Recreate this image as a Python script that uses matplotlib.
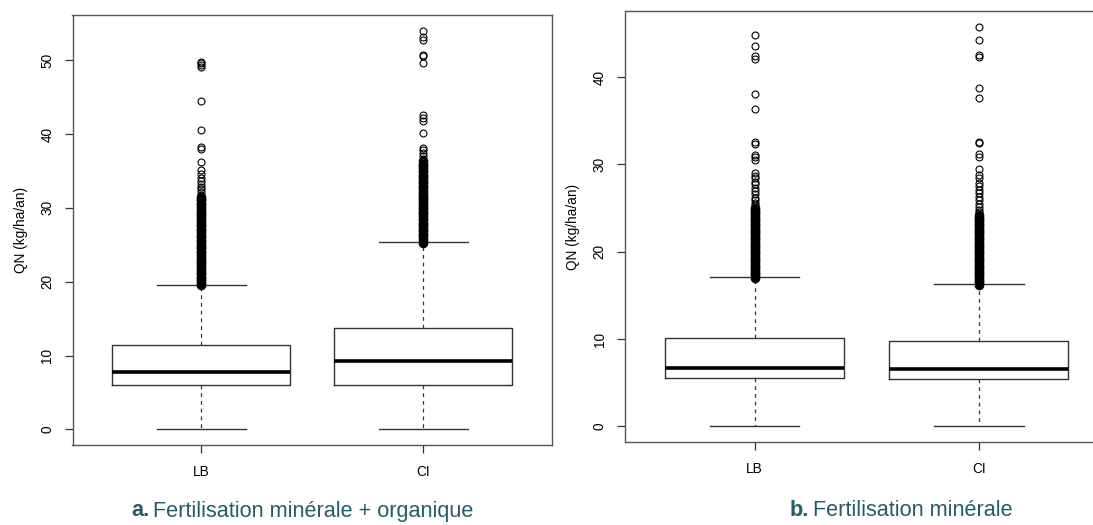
import matplotlib
matplotlib.use("Agg")
import matplotlib.pyplot as plt

plt.rcParams["font.family"] = ["Liberation Sans", "DejaVu Sans"]

groups = ["LB", "CI"]

# a. mineral + organic fertilisation
a_low = [0.0, 0.0]
a_q1 = [6.0, 6.05]
a_med = [7.8, 9.25]
a_q3 = [11.4, 13.75]
a_high = [19.6, 25.4]
# dense band of outliers (looks solid in the picture)
a_lb_dense = [
    19.5, 19.7, 20.0, 20.2, 20.5, 20.7, 21.0, 21.2, 21.5, 21.7, 22.0, 22.2,
    22.5, 22.7, 23.0, 23.2, 23.5, 23.7, 24.0, 24.2, 24.5, 24.7, 25.0, 25.2,
    25.5, 25.7, 26.0, 26.2, 26.5, 26.7, 27.0, 27.2, 27.5, 27.7, 28.0, 28.2,
    28.5, 28.7, 29.0, 29.2, 29.5, 29.7, 30.0, 30.2, 30.5, 30.7, 31.0, 31.2,
    31.5,
]
a_lb_sparse = [31.8, 32.1, 32.5, 32.8, 33.2, 33.6, 34.0, 34.6, 35.1, 36.2, 38.0,
               38.2, 40.6, 44.5, 49.1, 49.3, 49.6, 49.8]
a_ci_dense = [
    25.3, 25.5, 25.8, 26.0, 26.3, 26.5, 26.8, 27.0, 27.3, 27.5, 27.8, 28.0,
    28.3, 28.5, 28.8, 29.0, 29.3, 29.5, 29.8, 30.0, 30.3, 30.5, 30.8, 31.0,
    31.3, 31.5, 31.8, 32.0, 32.3, 32.5, 32.8, 33.0, 33.3, 33.5, 33.8, 34.0,
    34.3, 34.5, 34.8, 35.0, 35.3, 35.5, 35.8, 36.0, 36.3,
]
a_ci_sparse = [36.6, 37.0, 37.4, 37.8, 38.1, 40.2, 41.7, 42.2, 42.6, 49.6, 50.5,
               50.7, 52.8, 53.2, 54.0]

# b. mineral fertilisation
b_low = [0.0, 0.0]
b_q1 = [5.57, 5.39]
b_med = [6.68, 6.53]
b_q3 = [10.15, 9.74]
b_high = [17.1, 16.3]
b_lb_dense = [
    17.0, 17.2, 17.4, 17.6, 17.8, 18.0, 18.2, 18.4, 18.6, 18.8, 19.0, 19.2,
    19.4, 19.6, 19.8, 20.0, 20.2, 20.4, 20.6, 20.8, 21.0, 21.2, 21.4, 21.6,
    21.8, 22.0, 22.2, 22.4, 22.6, 22.8, 23.0, 23.2, 23.4, 23.6, 23.8, 24.0,
    24.2, 24.4, 24.6, 24.8, 25.0,
]
b_lb_sparse = [25.3, 25.6, 25.9, 26.2, 26.6, 27.0, 27.3, 27.7, 28.0, 28.4, 28.7,
               29.0, 30.45, 30.9, 31.1, 32.35, 32.55, 36.3, 38.1, 42.1, 42.36,
               43.55, 44.85]
b_ci_dense = [
    16.2, 16.4, 16.6, 16.8, 17.0, 17.2, 17.4, 17.6, 17.8, 18.0, 18.2, 18.4,
    18.6, 18.8, 19.0, 19.2, 19.4, 19.6, 19.8, 20.0, 20.2, 20.4, 20.6, 20.8,
    21.0, 21.2, 21.4, 21.6, 21.8, 22.0, 22.2, 22.4, 22.6, 22.8, 23.0, 23.2,
    23.4, 23.6, 23.8, 24.0, 24.2,
]
b_ci_sparse = [24.5, 24.8, 25.1, 25.5, 25.9, 26.3, 26.7, 27.1, 27.5, 27.9, 28.4,
               28.8, 29.45, 30.9, 31.2, 32.5, 32.6, 37.6, 38.7, 42.3, 42.5, 44.2,
               45.7]

y_label = "QN (kg/ha/an)"
captions = [("a.", "Fertilisation minérale + organique"), ("b.", "Fertilisation minérale")]
cap_color = "#255b6b"
line_col = "#333333"


def make_stats(low, q1, med, q3, high, outs):
    stats = []
    for i, name in enumerate(groups):
        stats.append(
            dict(label=name, whislo=low[i], q1=q1[i], med=med[i], q3=q3[i],
                 whishi=high[i], fliers=outs[i])
        )
    return stats


def draw_panel(ax, stats, dense, yticks):
    ax.bxp(
        stats,
        positions=[1, 2],
        widths=0.8,
        capwidths=0.4,
        showfliers=True,
        boxprops=dict(color=line_col, linewidth=1.0),
        whiskerprops=dict(color=line_col, linewidth=0.9, linestyle=(0, (3, 3.2))),
        capprops=dict(color=line_col, linewidth=1.0),
        medianprops=dict(color="black", linewidth=2.6, solid_capstyle="butt"),
        flierprops=dict(marker="o", markerfacecolor="none", markeredgecolor="black",
                        markersize=5, markeredgewidth=0.8),
    )
    # the thousands of overlapping outliers fill in to a solid column
    for pos, vals in zip([1, 2], dense):
        ax.plot([pos] * len(vals), vals, linestyle="none", marker="o",
                markerfacecolor="none", markeredgecolor="black",
                markersize=5, markeredgewidth=1.9)
    all_vals = [s["whishi"] for s in stats] + [max(s["fliers"]) for s in stats]
    all_low = [s["whislo"] for s in stats]
    ymin, ymax = min(all_low), max(all_vals)
    pad = 0.04 * (ymax - ymin)
    ax.set_ylim(ymin - pad, ymax + pad)
    ax.set_xlim(0.42, 2.58)
    ax.set_yticks(yticks)
    ax.set_yticklabels([str(t) for t in yticks], rotation=90, va="center")
    ax.set_xticks([1, 2])
    ax.set_xticklabels(groups)
    ax.tick_params(axis="both", direction="out", length=6, width=0.9,
                   color=line_col, labelsize=9.8, pad=7)
    ax.tick_params(axis="x", pad=8)
    for sp in ax.spines.values():
        sp.set_color("#555555")
        sp.set_linewidth(1.0)
    ax.set_ylabel(y_label, fontsize=9.8, labelpad=9)


fig = plt.figure(figsize=(10.93, 5.25), dpi=100)
W, H = 1093, 525

ax1 = fig.add_axes([72.5 / W, 1 - 445.3 / H, 479.5 / W, 430.6 / H])
ax2 = fig.add_axes([624.7 / W, 1 - 442.3 / H, 484 / W, 431 / H])

draw_panel(ax1,
           make_stats(a_low, a_q1, a_med, a_q3, a_high,
                      [a_lb_dense + a_lb_sparse, a_ci_dense + a_ci_sparse]),
           [a_lb_dense, a_ci_dense], [0, 10, 20, 30, 40, 50])
draw_panel(ax2,
           make_stats(b_low, b_q1, b_med, b_q3, b_high,
                      [b_lb_dense + b_lb_sparse, b_ci_dense + b_ci_sparse]),
           [b_lb_dense, b_ci_dense], [0, 10, 20, 30, 40])

# captions below the panels
renderer = fig.canvas.get_renderer()
for (bold, rest), x0 in zip(captions, [131, 790]):
    t1 = fig.text(x0 / W, 1 - 511 / H, bold, fontsize=15.6, fontweight="bold",
                  color=cap_color, va="center", ha="left")
    bb = t1.get_window_extent(renderer)
    x1 = bb.x1 / W + 4 / W
    fig.text(x1, 1 - 511 / H, rest, fontsize=15.6, color=cap_color,
             va="center", ha="left")

fig.savefig("out.png", dpi=100)
